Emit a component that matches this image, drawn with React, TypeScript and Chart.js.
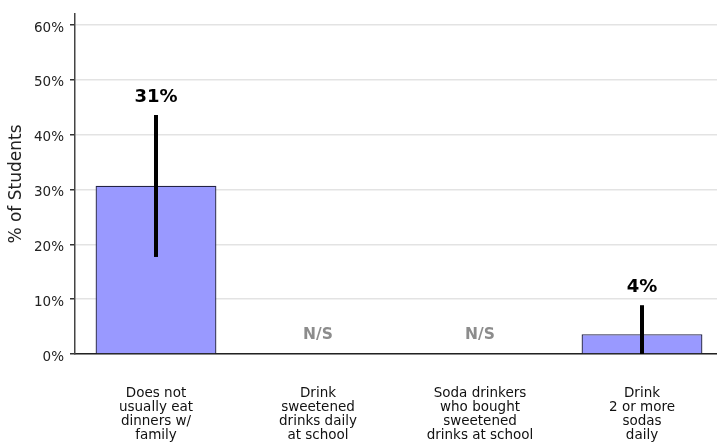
import React, { useEffect, useRef } from "react";
import { Chart, registerables } from "chart.js";

Chart.register(...registerables);

const categories: string[][] = [
  ["Does not", "usually eat", "dinners w/", "family"],
  ["Drink", "sweetened", "drinks daily", "at school"],
  ["Soda drinkers", "who bought", "sweetened", "drinks at school"],
  ["Drink", "2 or more", "sodas", "daily"],
];
const values: (number | null)[] = [30.7, null, null, 3.6];
const errLow: (number | null)[] = [17.7, null, null, 0];
const errHigh: (number | null)[] = [43.6, null, null, 8.9];
const valueLabels: string[] = ["31%", "N/S", "N/S", "4%"];
const yTitle = "% of Students";
const yMin = 0;
const yMax = 62;
const yStep = 10;

const FONT = "'DejaVu Sans', 'Liberation Sans', Arial, sans-serif";

const labelPlugin = {
  id: "errorBarsAndLabels",
  afterDatasetsDraw(chart: any) {
    const ctx = chart.ctx;
    const xs = chart.scales.x;
    const ys = chart.scales.y;
    ctx.save();
    values.forEach((v, i) => {
      const px = xs.getPixelForValue(i);
      ctx.textAlign = "center";
      ctx.textBaseline = "middle";
      if (v == null) {
        ctx.font = `bold 15.5px ${FONT}`;
        ctx.fillStyle = "#8c8c8c";
        ctx.fillText(valueLabels[i], px, ys.getPixelForValue(0) - 19);
      } else {
        const top = ys.getPixelForValue(errHigh[i] as number);
        const bot = ys.getPixelForValue(errLow[i] as number);
        ctx.lineWidth = 4;
        ctx.strokeStyle = "#000";
        ctx.beginPath();
        ctx.moveTo(px, top);
        ctx.lineTo(px, bot);
        ctx.stroke();
        ctx.font = `bold 18px ${FONT}`;
        ctx.fillStyle = "#000";
        ctx.fillText(valueLabels[i], px, top - 18);
      }
    });
    ctx.restore();
  },
};

export default function App() {
  const ref = useRef<HTMLCanvasElement | null>(null);
  useEffect(() => {
    if (!ref.current) return;
    const chart = new Chart(ref.current, {
      type: "bar",
      data: {
        labels: categories,
        datasets: [
          {
            data: values,
            backgroundColor: "#9999ff",
            borderColor: "#222244",
            borderWidth: 1.3,
            borderSkipped: "bottom",
            barPercentage: 0.746,
            categoryPercentage: 1,
          },
        ],
      },
      options: {
        responsive: false,
        animation: false,
        layout: { padding: { top: 12, left: 0, right: 0, bottom: 0 } },
        plugins: { legend: { display: false }, tooltip: { enabled: false } },
        scales: {
          x: {
            grid: { display: false },
            border: { display: true, color: "#222", width: 1.5 },
            ticks: {
              color: "#111",
              font: { family: FONT, size: 13.5, lineHeight: 1.05 },
              padding: 24,
              maxRotation: 0,
              autoSkip: false,
            },
            afterFit(scale: any) {
              scale.height = 91;
            },
          },
          y: {
            min: yMin,
            max: yMax,
            grid: { color: "#e3e3e3", lineWidth: 1.5, tickLength: 5, tickColor: "#333" },
            border: { display: true, color: "#444", width: 1.5 },
            ticks: {
              stepSize: yStep,
              includeBounds: false,
              color: "#222",
              padding: 6,
              labelOffset: 3,
              font: { family: FONT, size: 13.5 },
              callback: (v: any) => `${v}%`,
            },
            title: {
              display: true,
              text: yTitle,
              color: "#222",
              font: { family: FONT, size: 17 },
              padding: { top: 6, bottom: 0 },
            },
            afterFit(scale: any) {
              scale.width = 75;
            },
          },
        },
      },
      plugins: [labelPlugin],
    });
    return () => chart.destroy();
  }, []);
  return (
    <div
      style={{
        position: "absolute",
        left: 0,
        top: 0,
        width: 717,
        height: 445,
        overflow: "hidden",
        background: "#fff",
      }}
    >
      <canvas ref={ref} width={723} height={445} />
    </div>
  );
}
